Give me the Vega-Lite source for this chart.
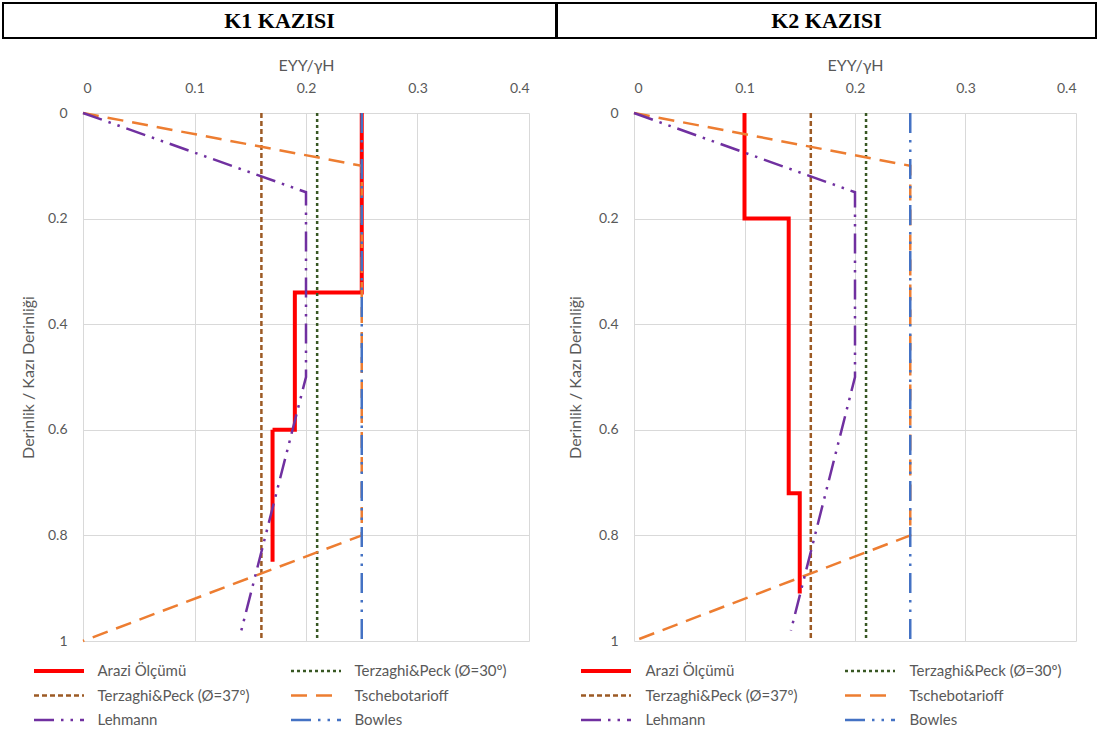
{
  "$schema": "https://vega.github.io/schema/vega-lite/v6.json",
  "padding": {"left": 2, "top": 2, "right": 0, "bottom": 0},
  "background": "white",
  "datasets": {
    "k1": [
      {"series": "Arazi Ölçümü", "x": 0.25, "y": 0, "i": 0},
      {"series": "Arazi Ölçümü", "x": 0.25, "y": 0.34, "i": 1},
      {"series": "Arazi Ölçümü", "x": 0.19, "y": 0.34, "i": 2},
      {"series": "Arazi Ölçümü", "x": 0.19, "y": 0.6, "i": 3},
      {"series": "Arazi Ölçümü", "x": 0.17, "y": 0.6, "i": 4},
      {"series": "Arazi Ölçümü", "x": 0.17, "y": 0.85, "i": 5},
      {"series": "Terzaghi&Peck (Ø=30º)", "x": 0.21, "y": 0, "i": 0},
      {"series": "Terzaghi&Peck (Ø=30º)", "x": 0.21, "y": 1, "i": 1},
      {"series": "Terzaghi&Peck (Ø=37º)", "x": 0.16, "y": 0, "i": 0},
      {"series": "Terzaghi&Peck (Ø=37º)", "x": 0.16, "y": 1, "i": 1},
      {"series": "Tschebotarioff", "x": 0, "y": 0, "i": 0},
      {"series": "Tschebotarioff", "x": 0.25, "y": 0.1, "i": 1},
      {"series": "Tschebotarioff", "x": 0.25, "y": 0.8, "i": 2},
      {"series": "Tschebotarioff", "x": 0, "y": 1, "i": 3},
      {"series": "Lehmann", "x": 0, "y": 0, "i": 0},
      {"series": "Lehmann", "x": 0.2, "y": 0.15, "i": 1},
      {"series": "Lehmann", "x": 0.2, "y": 0.5, "i": 2},
      {"series": "Lehmann", "x": 0.142, "y": 0.98, "i": 3},
      {"series": "Bowles", "x": 0.25, "y": 0, "i": 0},
      {"series": "Bowles", "x": 0.25, "y": 1, "i": 1}
    ],
    "k2": [
      {"series": "Arazi Ölçümü", "x": 0.1, "y": 0, "i": 0},
      {"series": "Arazi Ölçümü", "x": 0.1, "y": 0.2, "i": 1},
      {"series": "Arazi Ölçümü", "x": 0.14, "y": 0.2, "i": 2},
      {"series": "Arazi Ölçümü", "x": 0.14, "y": 0.72, "i": 3},
      {"series": "Arazi Ölçümü", "x": 0.15, "y": 0.72, "i": 4},
      {"series": "Arazi Ölçümü", "x": 0.15, "y": 0.91, "i": 5},
      {"series": "Terzaghi&Peck (Ø=30º)", "x": 0.21, "y": 0, "i": 0},
      {"series": "Terzaghi&Peck (Ø=30º)", "x": 0.21, "y": 1, "i": 1},
      {"series": "Terzaghi&Peck (Ø=37º)", "x": 0.16, "y": 0, "i": 0},
      {"series": "Terzaghi&Peck (Ø=37º)", "x": 0.16, "y": 1, "i": 1},
      {"series": "Tschebotarioff", "x": 0, "y": 0, "i": 0},
      {"series": "Tschebotarioff", "x": 0.25, "y": 0.1, "i": 1},
      {"series": "Tschebotarioff", "x": 0.25, "y": 0.8, "i": 2},
      {"series": "Tschebotarioff", "x": 0, "y": 1, "i": 3},
      {"series": "Lehmann", "x": 0, "y": 0, "i": 0},
      {"series": "Lehmann", "x": 0.2, "y": 0.15, "i": 1},
      {"series": "Lehmann", "x": 0.2, "y": 0.5, "i": 2},
      {"series": "Lehmann", "x": 0.142, "y": 0.98, "i": 3},
      {"series": "Bowles", "x": 0.25, "y": 0, "i": 0},
      {"series": "Bowles", "x": 0.25, "y": 1, "i": 1}
    ],
    "h1": [{"t": "K1 KAZISI"}],
    "h2": [{"t": "K2 KAZISI"}]
  },
  "config": {
    "font": "Lato",
    "view": {"stroke": null},
    "axis": {
      "labelColor": "#595959", "titleColor": "#595959",
      "labelFontSize": 14, "titleFontSize": 16, "titleFontWeight": "normal",
      "labelFont": "Lato", "titleFont": "Lato",
      "gridColor": "#d9d9d9", "gridWidth": 1, "domain": false, "ticks": false
    },
    "legend": {
      "labelFont": "Lato", "labelFontSize": 15, "labelColor": "#595959", "labelLimit": 400
    }
  },
  "resolve": {
    "scale": {"color": "independent", "strokeDash": "independent"},
    "legend": {"color": "independent", "strokeDash": "independent"}
  },
  "spacing": -2,
  "hconcat": [
    {
      "spacing": 18,
      "resolve": {
        "scale": {"color": "independent", "strokeDash": "independent"},
        "legend": {"color": "independent", "strokeDash": "independent"}
      },
      "vconcat": [
        {
          "width": 553, "height": 35,
          "view": {"stroke": "black", "strokeWidth": 2},
          "data": {"name": "h1"},
          "mark": {"type": "text", "font": "Liberation Serif", "fontWeight": "bold", "fontSize": 22, "color": "black"},
          "encoding": {"text": {"field": "t", "type": "nominal"}}
        },
        {
          "width": 527, "height": 528,
          "data": {"name": "k1"},
          "mark": {"type": "line"},
          "encoding": {
            "x": {"field": "x", "type": "quantitative",
              "scale": {"domain": [0, 0.4], "range": [80, 526], "nice": false, "zero": false},
              "axis": {"orient": "top", "title": "EYY/γH", "values": [0, 0.1, 0.2, 0.3, 0.4], "format": ".1~f", "labelPadding": 18, "titlePadding": 8}},
            "y": {"field": "y", "type": "quantitative",
              "scale": {"domain": [0, 1], "reverse": true, "nice": false},
              "axis": {"title": "Derinlik / Kazı Derinliği", "offset": -80, "values": [0, 0.2, 0.4, 0.6, 0.8, 1], "format": ".1~f", "labelPadding": 16, "titlePadding": 11}},
            "color": {"field": "series", "type": "nominal",
              "scale": {"domain": ["Arazi Ölçümü", "Terzaghi&Peck (Ø=30º)", "Terzaghi&Peck (Ø=37º)", "Tschebotarioff", "Lehmann", "Bowles"],
                        "range": ["#ff0000", "#385723", "#9c5a24", "#ed7d31", "#7030a0", "#4472c4"]},
              "legend": {"orient": "none", "legendX": -1, "legendY": 548, "title": null, "columns": 2, "direction": "horizontal", "symbolType": "stroke", "symbolSize": 2500, "clipHeight": 20, "rowPadding": 4.5, "columnPadding": 9, "padding": 0, "symbolStrokeWidth": 2.5, "labelOffset": 31, "symbolOffset": 49.5,
                "encode": {"symbols": {"update": {"strokeWidth": {"signal": "datum.value === 'Arazi Ölçümü' ? 4 : 2.5"}}}}}},
            "strokeDash": {"field": "series", "type": "nominal",
              "scale": {"domain": ["Arazi Ölçümü", "Terzaghi&Peck (Ø=30º)", "Terzaghi&Peck (Ø=37º)", "Tschebotarioff", "Lehmann", "Bowles"],
                        "range": [[1, 0], [3, 3], [5, 3], [16, 9], [20, 7, 2.5, 7, 2.5, 7], [20, 7, 2.5, 7, 2.5, 7]]}},
            "strokeWidth": {"condition": {"test": "datum.series === 'Arazi Ölçümü'", "value": 4}, "value": 2.5},
            "order": {"field": "i", "type": "quantitative"}
          }
        }
      ]
    },
    {
      "spacing": 18,
      "resolve": {
        "scale": {"color": "independent", "strokeDash": "independent"},
        "legend": {"color": "independent", "strokeDash": "independent"}
      },
      "vconcat": [
        {
          "width": 539, "height": 35,
          "view": {"stroke": "black", "strokeWidth": 2},
          "data": {"name": "h2"},
          "mark": {"type": "text", "font": "Liberation Serif", "fontWeight": "bold", "fontSize": 22, "color": "black"},
          "encoding": {"text": {"field": "t", "type": "nominal"}}
        },
        {
          "width": 520, "height": 528,
          "data": {"name": "k2"},
          "mark": {"type": "line"},
          "encoding": {
            "x": {"field": "x", "type": "quantitative",
              "scale": {"domain": [0, 0.4], "range": [77, 519], "nice": false, "zero": false},
              "axis": {"orient": "top", "title": "EYY/γH", "values": [0, 0.1, 0.2, 0.3, 0.4], "format": ".1~f", "labelPadding": 18, "titlePadding": 8}},
            "y": {"field": "y", "type": "quantitative",
              "scale": {"domain": [0, 1], "reverse": true, "nice": false},
              "axis": {"title": "Derinlik / Kazı Derinliği", "offset": -77, "values": [0, 0.2, 0.4, 0.6, 0.8, 1], "format": ".1~f", "labelPadding": 16, "titlePadding": 15}},
            "color": {"field": "series", "type": "nominal",
              "scale": {"domain": ["Arazi Ölçümü", "Terzaghi&Peck (Ø=30º)", "Terzaghi&Peck (Ø=37º)", "Tschebotarioff", "Lehmann", "Bowles"],
                        "range": ["#ff0000", "#385723", "#9c5a24", "#ed7d31", "#7030a0", "#4472c4"]},
              "legend": {"orient": "none", "legendX": -1, "legendY": 548, "title": null, "columns": 2, "direction": "horizontal", "symbolType": "stroke", "symbolSize": 2500, "clipHeight": 20, "rowPadding": 4.5, "columnPadding": 22, "padding": 0, "symbolStrokeWidth": 2.5, "labelOffset": 32, "symbolOffset": 42.5,
                "encode": {"symbols": {"update": {"strokeWidth": {"signal": "datum.value === 'Arazi Ölçümü' ? 4 : 2.5"}}}}}},
            "strokeDash": {"field": "series", "type": "nominal",
              "scale": {"domain": ["Arazi Ölçümü", "Terzaghi&Peck (Ø=30º)", "Terzaghi&Peck (Ø=37º)", "Tschebotarioff", "Lehmann", "Bowles"],
                        "range": [[1, 0], [3, 3], [5, 3], [16, 9], [20, 7, 2.5, 7, 2.5, 7], [20, 7, 2.5, 7, 2.5, 7]]}},
            "strokeWidth": {"condition": {"test": "datum.series === 'Arazi Ölçümü'", "value": 4}, "value": 2.5},
            "order": {"field": "i", "type": "quantitative"}
          }
        }
      ]
    }
  ]
}
